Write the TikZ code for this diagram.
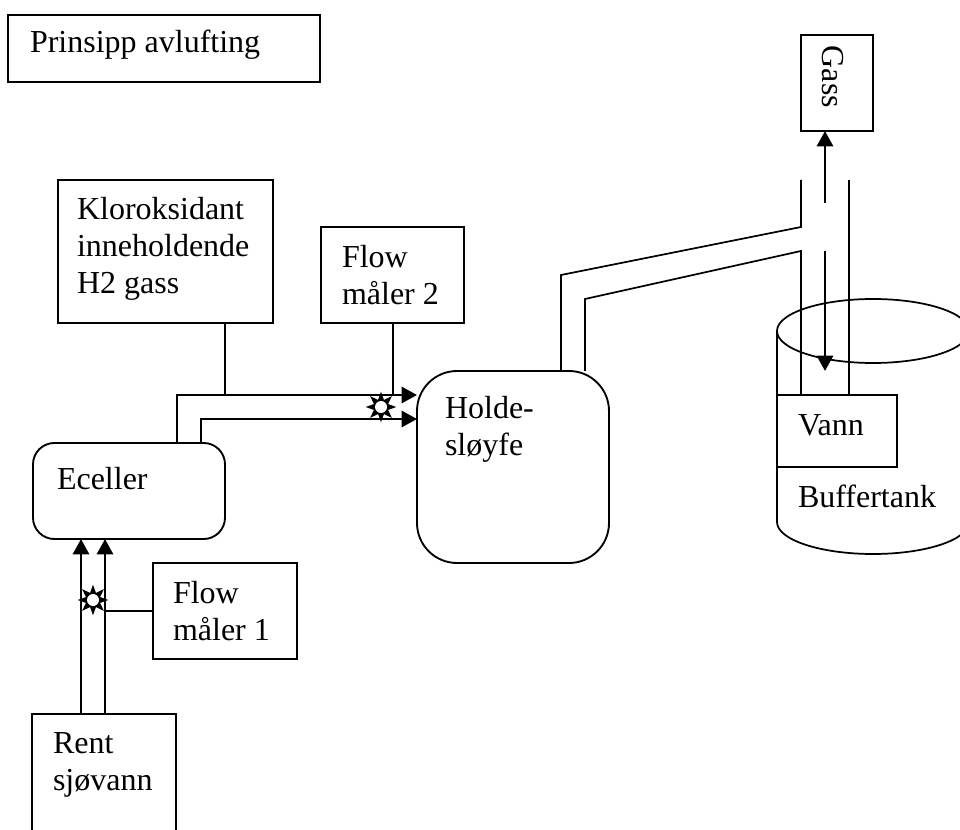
\documentclass[tikz,border=0pt]{standalone}
\usepackage{fontspec}
\setmainfont{Liberation Serif}
\usetikzlibrary{arrows.meta,shapes.geometric}
\tikzset{
  box/.style={draw,rectangle,line width=1.4pt,inner sep=0pt,outer sep=0pt},
  rbox/.style={box,rounded corners=#1},
  lbl/.style={anchor=north west,inner sep=0pt,outer sep=0pt,align=left,font=\fontsize{24}{28}\selectfont},
  thin line/.style={line width=1.3pt},
  flow/.style={line width=2.2pt,-{Triangle[length=11.5pt,width=12pt]}},
  sunstar/.style={star,star points=8,star point ratio=2.0,fill=black,minimum size=23pt,inner sep=0pt},
  sundisc/.style={circle,fill=white,minimum size=9pt,inner sep=0pt}
}
\begin{document}
\begin{tikzpicture}[x=0.75pt,y=-0.75pt]
\useasboundingbox (0,0) rectangle (960,830);
\clip (0,0) rectangle (960,830);
% boxes
\node[box,minimum width=234pt,minimum height=50.25pt] (title) at (164,48.5) {};
\node[box,minimum width=54pt,minimum height=72pt] (gass) at (837,83) {};
\node[box,minimum width=161.25pt,minimum height=107.25pt] (klor) at (165.5,251.5) {};
\node[box,minimum width=107.25pt,minimum height=72pt] (flowb) at (392.5,275) {};
\node[rbox=16pt,minimum width=144pt,minimum height=72pt] (ecell) at (129,491) {};
\node[rbox=30pt,minimum width=144pt,minimum height=144pt] (holde) at (513,467) {};
\node[box,minimum width=108pt,minimum height=72pt] (flowa) at (225,611) {};
\node[box,minimum width=108pt,minimum height=94.5pt] (rent) at (104,777) {};
% buffer tank
\node[draw,ellipse,line width=1.3pt,inner sep=0pt,outer sep=0pt,minimum width=144pt,minimum height=48pt] (tanktop) at (873,331) {};
\draw[thin line] (tanktop.west) -- (777,522) .. controls (777,539.7) and (820,554) .. (873,554)
  .. controls (926,554) and (969,539.7) .. (969,522);
\node[box,fill=white,minimum width=90pt,minimum height=54pt] (vann) at (837,431) {};
% labels
\node[lbl] (ltitle) at (30,26) {\strut Prinsipp avlufting};
\node[lbl] (lklor) at (77,193) {\strut Kloroksidant\\inneholdende\\H2 gass};
\node[lbl] (lflowb) at (342,241) {\strut Flow\\måler 2};
\node[lbl] (lecell) at (57,463) {\strut Eceller};
\node[lbl] (lholde) at (445,392) {\strut Holde-\\sløyfe};
\node[lbl] (lflowa) at (173,577) {\strut Flow\\måler 1};
\node[lbl] (lrent) at (53,727) {\strut Rent\\sjøvann};
\node[lbl] (lvann) at (798,409) {\strut Vann};
\node[lbl] (lbuf) at (798,481) {\strut Buffertank};
\node[inner sep=0pt,rotate=-90,font=\fontsize{24}{28}\selectfont] (lgass) at (833,77) {Gass};
% process flow arrows
\draw[flow] (177,0 |- ecell.north) -- (177,395) -- (177,395 -| holde.west);
\draw[flow] (201,0 |- ecell.north) -- (201,419) -- (201,419 -| holde.west);
\draw[flow] (81,0 |- rent.north) -- (81,0 |- ecell.south);
\draw[flow] (105,0 |- rent.north) -- (105,0 |- ecell.south);
% instrument lines
\coordinate (jk) at (225,395);
\coordinate (jf) at (393,395);
\coordinate (ja) at (105,611);
\draw[thin line] (jk |- klor.south) -- (jk);
\draw[thin line] (jf |- flowb.south) -- (jf);
\draw[thin line] (flowa.west) -- (ja);
% sensors
\node[sunstar] (suna) at (93,600) {};
\node[sundisc] at (suna) {};
\node[sunstar] (sunb) at (381,407) {};
\node[sundisc] at (sunb) {};
% pipes
\draw[thin line] (561,0 |- holde.north) -- (561,275) -- (801,227) -- (801,180);
\draw[thin line] (585,0 |- holde.north) -- (585,299) -- (801,251) -- (801,0 |- vann.north);
\draw[thin line] (849,180) -- (849,0 |- vann.north);
% gas and water arrows
\coordinate (ga) at (825,203);
\coordinate (wa) at (825,251);
\coordinate (wb) at (825,371);
\draw[flow] (ga) -- (ga |- gass.south);
\draw[flow] (wa) -- (wb);
\end{tikzpicture}
\end{document}
